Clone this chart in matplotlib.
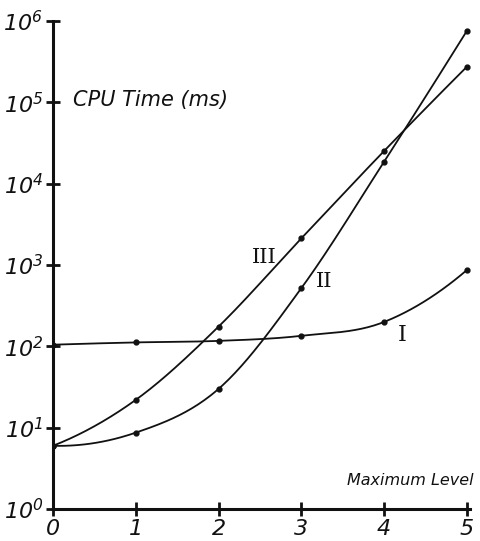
"""Hand-drawn style CPU time vs maximum level chart."""
import numpy as np
import matplotlib.pyplot as plt

INK = "#111111"

plt.rcParams.update({
    "font.family": "DejaVu Sans",
    "font.style": "italic",
    "mathtext.fontset": "dejavusans",
    "mathtext.default": "it",
    "text.color": INK,
    "axes.edgecolor": INK,
    "xtick.color": INK,
    "ytick.color": INK,
})

# ---- data ---------------------------------------------------------------
levels = [0, 1, 2, 3, 4, 5]
cpu_I = [105, 112, 117, 135, 200, 870]
cpu_II = [6.0, 8.7, 30, 520, 18700, 760000]
cpu_III = [6.0, 22, 175, 2130, 25300, 275000]
ytick_exps = [0, 1, 2, 3, 4, 5, 6]


def smooth(x, y, n=40):
    """Cubic Hermite curve through the points, in log space, for drawing only."""
    x = np.asarray(x, float)
    ly = np.log10(y)
    m = np.gradient(ly, x, edge_order=2)
    xs, ys = [], []
    for i in range(len(x) - 1):
        h = x[i + 1] - x[i]
        t = np.linspace(0, 1, n, endpoint=False)
        h00 = 2 * t**3 - 3 * t**2 + 1
        h10 = t**3 - 2 * t**2 + t
        h01 = -2 * t**3 + 3 * t**2
        h11 = t**3 - t**2
        xs.append(x[i] + t * h)
        ys.append(h00 * ly[i] + h10 * h * m[i] + h01 * ly[i + 1] + h11 * h * m[i + 1])
    xs.append([x[-1]])
    ys.append([ly[-1]])
    return np.concatenate(xs), 10 ** np.concatenate(ys)


fig = plt.figure(figsize=(4.81, 5.41), dpi=100)
ax = fig.add_axes([0.110, 0.059, 0.8676, 0.902])

for ys in (cpu_I, cpu_II, cpu_III):
    sx, sy = smooth(levels, ys)
    ax.plot(sx, sy, color=INK, lw=1.3)
    ax.plot(levels, ys, "o", color=INK, ms=3.5)

ax.set_yscale("log")
ax.set_xlim(0, 5.04)
ax.set_ylim(1, 1e6)

for s in ("top", "right"):
    ax.spines[s].set_visible(False)
for s in ("left", "bottom"):
    ax.spines[s].set_linewidth(2.2)

ax.set_xticks(levels)
ax.set_xticklabels([str(v) for v in levels], fontsize=16)
ax.set_yticks([10.0**k for k in ytick_exps])
ax.set_yticklabels([f"$10^{{{k}}}$" for k in ytick_exps], fontsize=16)
ax.minorticks_off()
ax.tick_params(direction="inout", length=10, width=2, pad=2)

ax.text(0.24, 1.07e5, "CPU Time (ms)", fontsize=15, ha="left", va="center")
ax.text(3.55, 2.27, "Maximum Level", fontsize=11.5, ha="left", va="center")

ax.text(2.55, 1250, "III", fontsize=15, ha="center", va="center",
        family="DejaVu Serif", style="normal")
ax.text(3.28, 620, "II", fontsize=15, ha="center", va="center",
        family="DejaVu Serif", style="normal")
ax.text(4.22, 138, "I", fontsize=16, ha="center", va="center",
        family="DejaVu Serif", style="normal")

fig.savefig("out.png", dpi=100)
